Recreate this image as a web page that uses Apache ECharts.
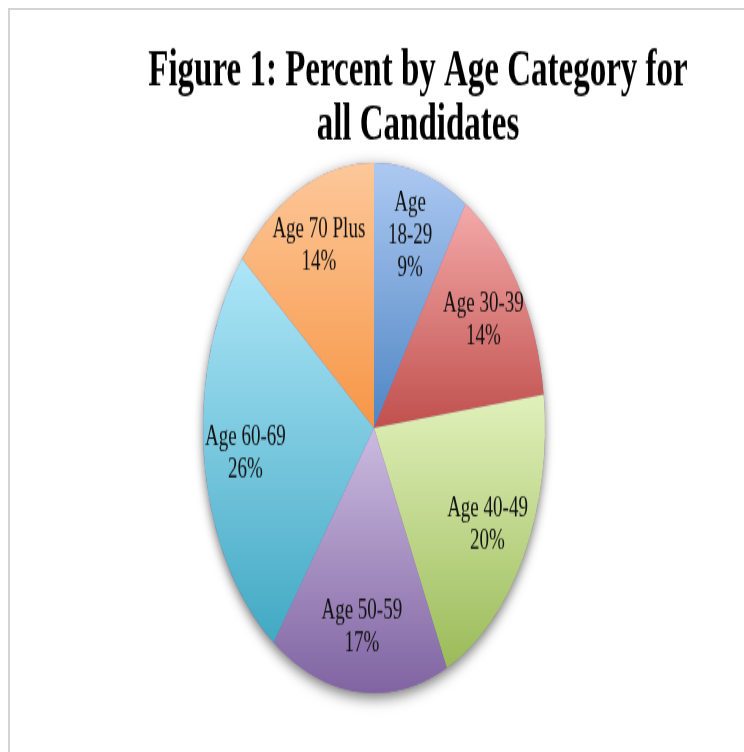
<!DOCTYPE html>
<html>
<head>
<meta charset="utf-8">
<script src="https://cdn.jsdelivr.net/npm/echarts@6/dist/echarts.min.js"></script>
<style>
  html, body { margin: 0; padding: 0; background: #fff; overflow: hidden; width: 744px; height: 752px; }
  #frame { position: absolute; z-index: 10; pointer-events: none; left: 8px; top: 8px; width: 760px; height: 760px; border-left: 2px solid #d4d4d4; border-top: 2px solid #d4d4d4; box-sizing: border-box; }
  #chart { position: absolute; z-index: 1; left: 0; top: 0; width: 744px; height: 485px; transform: scaleY(1.5505); transform-origin: 0 0; }
</style>
</head>
<body>
<div id="chart"></div>
<div id="frame"></div>
<script>
const titleText = 'Figure 1: Percent by Age Category for\nall Candidates';
const categories = ['Age 18-29', 'Age 30-39', 'Age 40-49', 'Age 50-59', 'Age 60-69', 'Age 70 Plus'];
const values = [9, 14, 20, 17, 26, 14];
const lightColors = ['#adc9f2', '#f4aaa9', '#e1f1bb', '#cbbbe0', '#aee6f8', '#fdc89a'];
const darkColors = ['#4f86c4', '#c0504d', '#9bbb59', '#8064a2', '#42a9c4', '#f79646'];

const total = values.reduce((a, b) => a + b, 0);

const chart = echarts.init(document.getElementById('chart'), null, { renderer: 'canvas' });

const cx = 374, cy = 276, R = 171;

const sliceData = categories.map((name, i) => ({
  name: name,
  value: values[i],
  itemStyle: {
    color: new echarts.graphic.LinearGradient(0, 0, 0, 1, [
      { offset: 0, color: lightColors[i] },
      { offset: 1, color: darkColors[i] }
    ])
  }
}));

const labelData = categories.map((name, i) => ({
  name: name,
  value: values[i],
  label: {
    formatter: values[i] < 10 ? name.replace(' ', '\n') + '\n{c}%' : '{b}\n{c}%'
  }
}));

chart.setOption({
  backgroundColor: '#ffffff',
  animation: false,
  graphic: [{
    type: 'text',
    x: 418,
    y: 29,
    style: {
      text: titleText,
      textAlign: 'center',
      fontFamily: 'Liberation Serif',
      fontWeight: 'bold',
      fontSize: 33,
      lineHeight: 35,
      fill: '#000'
    }
  }],
  series: [
    {
      type: 'pie',
      silent: true,
      z: 1,
      center: [cx, cy],
      radius: [0, R],
      label: { show: false },
      labelLine: { show: false },
      data: [{ name: 'all', value: total }],
      itemStyle: {
        color: '#8064a2',
        shadowBlur: 10,
        shadowColor: 'rgba(0,0,0,0.55)',
        shadowOffsetY: 3
      }
    },
    {
      type: 'pie',
      silent: true,
      z: 2,
      center: [cx, cy],
      radius: [0, R],
      startAngle: 90,
      clockwise: true,
      label: { show: false },
      labelLine: { show: false },
      data: sliceData
    },
    {
      type: 'pie',
      silent: true,
      z: 3,
      center: [cx, cy],
      radius: [R * 0.48, R],
      startAngle: 90,
      clockwise: true,
      itemStyle: { color: 'rgba(0,0,0,0)' },
      label: {
        show: true,
        position: 'inside',
        fontFamily: 'Liberation Serif',
        fontSize: 19,
        lineHeight: 21,
        color: '#111'
      },
      labelLine: { show: false },
      data: labelData
    }
  ]
});
</script>
</body>
</html>
